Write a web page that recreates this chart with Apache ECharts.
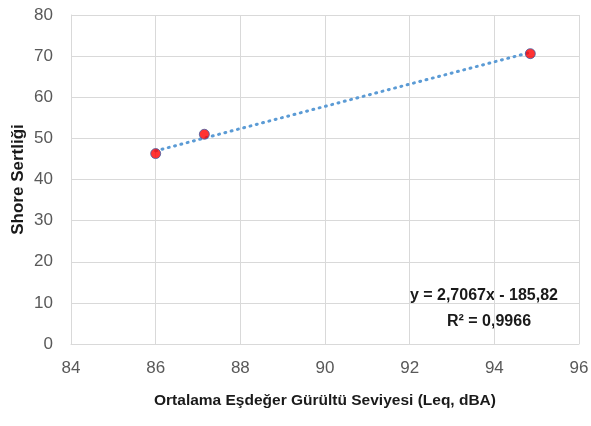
<!DOCTYPE html>
<html><head><meta charset="utf-8">
<script src="https://cdn.jsdelivr.net/npm/echarts@6/dist/echarts.min.js"></script>
<style>html,body{margin:0;padding:0;background:#fff}#c{width:591px;height:426px}</style>
</head><body><div id="c"></div>
<script>
const xValues = [86.0, 87.15, 94.85];
const yValues = [46.3, 51.0, 70.6];
const trendSlope = 2.7067;
const trendIntercept = -185.82;
const trendX = [86.0, 94.85];
const xTicks = [84, 86, 88, 90, 92, 94, 96];
const yTicks = [0, 10, 20, 30, 40, 50, 60, 70, 80];
const eqText = 'y = 2,7067x - 185,82';
const r2Text = 'R² = 0,9966';
const xTitle = 'Ortalama Eşdeğer Gürültü Seviyesi (Leq, dBA)';
const yTitle = 'Shore Sertliği';

const font = "'Liberation Sans',sans-serif";
const chart = echarts.init(document.getElementById('c'), null, {renderer: 'canvas'});
const pts = xValues.map((x, i) => [x, yValues[i]]);
const trend = trendX.map(x => [x, trendSlope * x + trendIntercept]);
chart.setOption({
  animation: false,
  grid: {left: 71, right: 12, top: 15, bottom: 82, containLabel: false, outerBoundsMode: 'none'},
  xAxis: {
    type: 'value', min: xTicks[0], max: xTicks[xTicks.length-1], interval: 2,
    name: xTitle, nameLocation: 'middle', nameGap: 49, nameMoveOverlap: false,
    nameTextStyle: {fontFamily: font, fontWeight: 'bold', fontSize: 15.5, color: '#1a1a1a'},
    axisLine: {show: true, lineStyle: {color: '#d9d9d9'}},
    axisTick: {show: false},
    axisLabel: {fontFamily: font, fontSize: 17, color: '#595959', margin: 16},
    splitLine: {show: true, lineStyle: {color: '#d9d9d9', width: 1}}
  },
  yAxis: {
    type: 'value', min: yTicks[0], max: yTicks[yTicks.length-1], interval: 10,
    name: yTitle, nameLocation: 'middle', nameGap: 44, nameMoveOverlap: false,
    nameTextStyle: {fontFamily: font, fontWeight: 'bold', fontSize: 17, color: '#1a1a1a'},
    axisLine: {show: true, lineStyle: {color: '#d9d9d9'}},
    axisTick: {show: false},
    axisLabel: {fontFamily: font, fontSize: 17, color: '#595959', margin: 18},
    splitLine: {show: true, lineStyle: {color: '#d9d9d9', width: 1}}
  },
  series: [
    {type: 'line', data: trend, symbol: 'none', silent: true,
     lineStyle: {color: '#5b9bd5', width: 3, type: [1, 5.5], cap: 'round'}, z: 2},
    {type: 'scatter', data: pts, symbol: 'circle', symbolSize: 10,
     itemStyle: {color: '#ff0000', borderColor: '#3f5fa8', borderWidth: 1}, z: 3}
  ],
  graphic: [
    {type: 'text', right: 33, top: 288, style: {text: eqText, font: "bold 16px " + font, fill: '#1a1a1a'}},
    {type: 'text', left: 447, top: 314, style: {text: r2Text, font: "bold 16px " + font, fill: '#1a1a1a'}}
  ]
});
</script></body></html>
